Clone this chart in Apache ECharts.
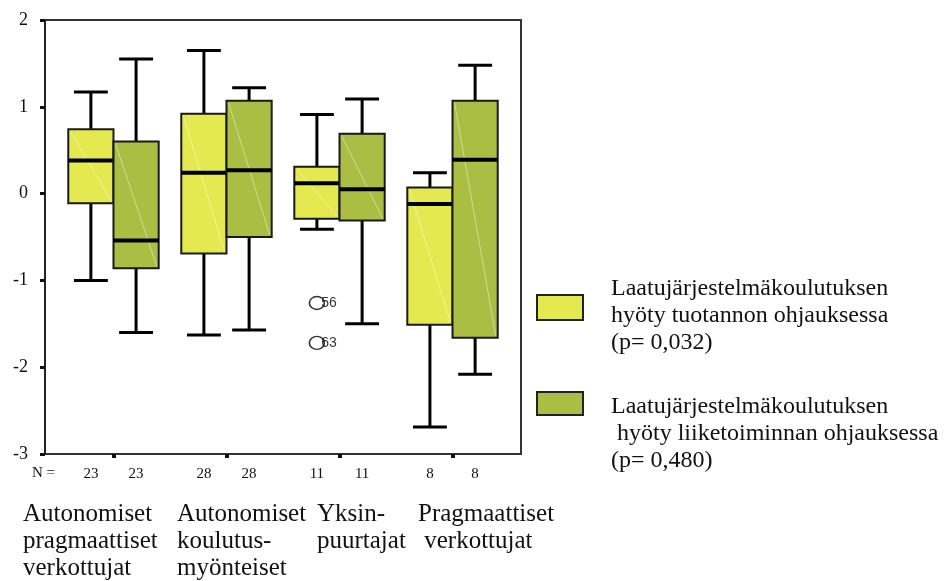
<!DOCTYPE html>
<html>
<head>
<meta charset="utf-8">
<script src="https://cdn.jsdelivr.net/npm/echarts@6/dist/echarts.min.js"></script>
<style>
  html, body { margin: 0; background: #fff; }
  #chart { width: 944px; height: 581px; }
</style>
</head>
<body>
<div id="chart"></div>
<script>
// ryhmät (x-akseli)
const groups = [
  'Autonomiset\npragmaattiset\nverkottujat',
  'Autonomiset\nkoulutus-\nmyönteiset',
  'Yksin-\npuurtajat',
  'Pragmaattiset\n verkottujat'
];
const seriesNames = [
  'Laatujärjestelmäkoulutuksen\nhyöty tuotannon ohjauksessa\n(p= 0,032)',
  'Laatujärjestelmäkoulutuksen\n hyöty liiketoiminnan ohjauksessa\n(p= 0,480)'
];
// [min, Q1, mediaani, Q3, max]
const tuotanto = [
  [-1.00, -0.11, 0.38, 0.74, 1.17],
  [-1.63, -0.69, 0.24, 0.92, 1.65],
  [-0.41, -0.29, 0.12, 0.31, 0.91],
  [-2.69, -1.51, -0.12, 0.07, 0.24]
];
const liiketoiminta = [
  [-1.60, -0.86, -0.54, 0.60, 1.55],
  [-1.57, -0.50, 0.27, 1.07, 1.22],
  [-1.50, -0.31, 0.05, 0.69, 1.09],
  [-2.08, -1.66, 0.39, 1.07, 1.48]
];
const nTuotanto = [23, 28, 11, 8];
const nLiiketoiminta = [23, 28, 11, 8];
// [ryhmä, sarja, arvo, tapaus]
const outliers = [
  [2, 0, -1.26, '56'],
  [2, 0, -1.72, '63']
];
const yMin = -3, yMax = 2;

const colors = ['#e4e94f', '#a9be42'];
const offsets = [-0.2, 0.2];
const serif = 'Liberation Serif';

function boxRenderer(si) {
  return function (params, api) {
    const g = api.value(0);
    const xv = g + offsets[si];
    const unit = api.size([1, 0])[0];
    const half = unit * 0.2;
    const capHalf = unit * 0.15;
    const cx = api.coord([xv, 0])[0];
    const y = v => api.coord([xv, v])[1];
    const low = y(api.value(1)), q1 = y(api.value(2)), med = y(api.value(3)),
          q3 = y(api.value(4)), high = y(api.value(5));
    const bottom = api.coord([xv, yMin])[1];
    const line = (x1, y1, x2, y2, w, c) => ({
      type: 'line', shape: { x1, y1, x2, y2 },
      style: { stroke: c || '#000', lineWidth: w }
    });
    return {
      type: 'group',
      children: [
        line(cx, q3, cx, high, 3),
        line(cx, q1, cx, low, 3),
        line(cx - capHalf, high, cx + capHalf, high, 3),
        line(cx - capHalf, low, cx + capHalf, low, 3),
        {
          type: 'rect',
          shape: { x: cx - half, y: q3, width: half * 2, height: q1 - q3 },
          style: { fill: colors[si], stroke: '#1a1a1a', lineWidth: 2 }
        },
        line(cx - half + 2, q3 + 2, cx + half - 2, q1 - 2, 1, 'rgba(255,255,255,0.45)'),
        line(cx - half, med, cx + half, med, 4),
        {
          type: 'text',
          style: {
            x: cx, y: bottom + 20, text: String(api.value(6)),
            align: 'center', verticalAlign: 'middle',
            font: '15px "' + serif + '"', fill: '#111'
          }
        }
      ]
    };
  };
}

function boxData(stats, ns) {
  return stats.map((s, i) => [i].concat(s).concat([ns[i]]));
}

const chart = echarts.init(document.getElementById('chart'));

const groupLefts = [23, 177, 317, 418];
const graphics = [
  {
    type: 'text', left: 32, top: 466,
    style: { text: 'N =', font: '15px "' + serif + '"', fill: '#111' }
  }
];
groups.forEach((g, i) => {
  graphics.push({
    type: 'text', left: groupLefts[i], top: 501,
    style: { text: g, font: '25px "' + serif + '"', lineHeight: 27, fill: '#111' }
  });
});
const legendTops = [275, 393];
const swatch = [[295, 25], [392, 23]];
seriesNames.forEach((name, i) => {
  graphics.push({
    type: 'rect',
    shape: { x: 537, y: swatch[i][0], width: 46, height: swatch[i][1] },
    style: { fill: colors[i], stroke: '#222', lineWidth: 2 }
  });
  graphics.push({
    type: 'text', left: 611, top: legendTops[i],
    style: { text: name, font: '24px "' + serif + '"', lineHeight: 27, fill: '#111' }
  });
});

chart.setOption({
  animation: false,
  grid: {
    left: 45, right: 423, top: 20, bottom: 127,
    show: true, borderColor: '#333', borderWidth: 2
  },
  xAxis: {
    type: 'value',
    min: -0.606, max: 3.606,
    axisLine: { show: false, onZero: false },
    axisLabel: { show: false },
    splitLine: { show: false },
    axisTick: {
      show: true, customValues: [0, 1, 2, 3], length: 4,
      lineStyle: { color: '#111', width: 4 }
    }
  },
  yAxis: {
    type: 'value',
    min: yMin, max: yMax, interval: 1,
    axisLine: { show: true, onZero: false, lineStyle: { color: '#222', width: 2 } },
    axisTick: { show: true, length: 5, lineStyle: { color: '#111', width: 3 } },
    axisLabel: { fontFamily: serif, fontSize: 18, color: '#111', margin: 17 },
    splitLine: { show: false }
  },
  graphic: graphics,
  series: [
    {
      type: 'custom', name: seriesNames[0],
      renderItem: boxRenderer(0),
      data: boxData(tuotanto, nTuotanto),
      clip: false
    },
    {
      type: 'custom', name: seriesNames[1],
      renderItem: boxRenderer(1),
      data: boxData(liiketoiminta, nLiiketoiminta),
      clip: false
    },
    {
      type: 'scatter',
      data: outliers.map(o => [o[0] + offsets[o[1]], o[2], o[3]]),
      symbol: 'circle',
      symbolSize: [15, 13],
      itemStyle: { color: 'rgba(255,255,255,0)', borderColor: '#000', borderWidth: 1.5 },
      label: {
        show: true, position: 'right', distance: -4,
        formatter: p => p.value[2],
        fontFamily: 'Liberation Sans', fontSize: 14, color: '#000'
      }
    }
  ]
});
</script>
</body>
</html>
